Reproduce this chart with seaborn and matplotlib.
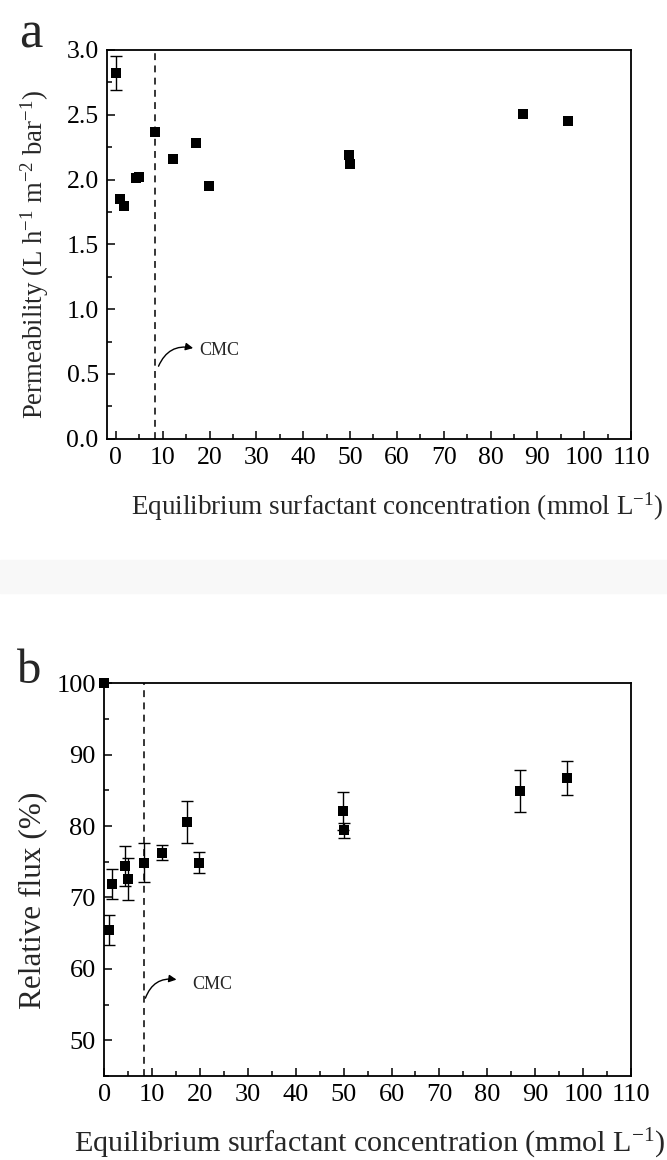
import numpy as np
import pandas as pd
import matplotlib
matplotlib.use("Agg")
import matplotlib.pyplot as plt
from matplotlib.ticker import MultipleLocator, FormatStrFormatter
from matplotlib.patches import Rectangle
import seaborn as sns

# data
conc = [0.0, 0.9, 1.7, 4.3, 5.0, 8.3, 12.1, 17.2, 19.8, 49.8, 50.0, 86.9, 96.6]
perm = [2.82, 1.85, 1.80, 2.01, 2.02, 2.37, 2.16, 2.28, 1.95, 2.19, 2.12, 2.51, 2.45]
perm_err = [0.13, 0, 0, 0, 0, 0, 0, 0, 0, 0, 0, 0, 0]
flux = [100.0, 65.5, 71.9, 74.4, 72.6, 74.9, 76.3, 80.6, 74.9, 82.1, 79.4, 84.9, 86.7]
flux_err = [0, 2.1, 2.1, 2.8, 2.9, 2.7, 1.0, 2.9, 1.5, 2.7, 1.1, 2.9, 2.4]
cmc = 8.3

xticks = list(range(0, 111, 10))

sns.set_style("ticks")
plt.rcParams["font.family"] = ["Liberation Serif", "DejaVu Serif"]
plt.rcParams["mathtext.fontset"] = "custom"
plt.rcParams["mathtext.rm"] = "Liberation Serif"
plt.rcParams["mathtext.it"] = "Liberation Serif:italic"
plt.rcParams["axes.linewidth"] = 1.3

fig = plt.figure(figsize=(6.67, 11.6), dpi=100)
W, H = 667, 1160

# faint page band between the two panels
fig.patches.append(Rectangle((0, 1 - 593 / H), 1, 33 / H, transform=fig.transFigure,
                             color="#f8f8f8", zorder=0))

def box(l, r, t, b):
    return [l / W, 1 - b / H, (r - l) / W, (b - t) / H]

ax_a = fig.add_axes(box(107, 631, 50, 438.8))
ax_b = fig.add_axes(box(104.2, 631, 683.3, 1076))

df_a = pd.DataFrame({"conc": conc, "val": perm, "err": perm_err})
df_b = pd.DataFrame({"conc": conc, "val": flux, "err": flux_err})


def draw(ax, df, tick_fs, ylim, ymaj, ymin, xlim):
    e = df[df["err"] > 0]
    ax.errorbar(e["conc"], e["val"], yerr=e["err"], fmt="none", ecolor="black",
                elinewidth=1.0, capsize=4, capthick=1.0, zorder=3)
    sns.scatterplot(data=df, x="conc", y="val", marker="s", color="black", s=55,
                    edgecolor="black", linewidth=0, ax=ax, zorder=4, clip_on=False)
    ax.axvline(cmc, color="black", lw=1.1, ls=(0, (4.5, 3.5)), zorder=2)
    ax.set_xlim(*xlim)
    ax.set_ylim(*ylim)
    ax.set_xticks(xticks)
    ax.xaxis.set_minor_locator(MultipleLocator(5))
    ax.yaxis.set_major_locator(MultipleLocator(ymaj))
    ax.yaxis.set_minor_locator(MultipleLocator(ymin))
    ax.tick_params(which="both", direction="in", top=False, right=False,
                   labelsize=tick_fs, width=1.1, colors="black")
    ax.tick_params(which="major", length=6, pad=6)
    ax.tick_params(which="minor", length=3.5)
    ax.set_xlabel("")
    ax.set_ylabel("")
    for s in ax.spines.values():
        s.set_color("black")


draw(ax_a, df_a, 18.5, (0, 3.0), 0.5, 0.25, (-1.9, 110))
ax_a.yaxis.set_major_formatter(FormatStrFormatter("%.1f"))
draw(ax_b, df_b, 19, (45, 100), 10, 5, (0, 110))

# labels
ax_a.set_xlabel("Equilibrium surfactant concentration (mmol L$^{-1}$)", fontsize=19.5)
ax_a.xaxis.label.set_va("baseline")
ax_a.xaxis.set_label_coords(0.554, -0.196)
ax_a.set_ylabel("Permeability (L h$^{-1}$ m$^{-2}$ bar$^{-1}$)", fontsize=19.3)
ax_a.yaxis.label.set_va("baseline")
ax_a.yaxis.set_label_coords(-0.122, 0.475)

ax_b.set_xlabel("Equilibrium surfactant concentration (mmol L$^{-1}$)", fontsize=21.7)
ax_b.xaxis.label.set_va("baseline")
ax_b.xaxis.set_label_coords(0.503, -0.193)
ax_b.set_ylabel("Relative flux (%)", fontsize=22.5)
ax_b.yaxis.label.set_va("baseline")
ax_b.yaxis.set_label_coords(-0.122, 0.448)

# CMC annotations
arrow = dict(arrowstyle="-|>", connectionstyle="arc3,rad=-0.4", color="black",
             lw=1.0, mutation_scale=11, shrinkA=0, shrinkB=0)
ax_a.annotate("", xy=(16.5, 0.70), xytext=(9.1, 0.56), arrowprops=arrow)
ax_a.text(17.9, 0.685, "CMC", fontsize=13, va="center", ha="left")
ax_b.annotate("", xy=(15.1, 58.5), xytext=(8.6, 55.9), arrowprops=arrow)
ax_b.text(18.3, 57.8, "CMC", fontsize=13, va="center", ha="left")

# panel letters
fig.text(19 / W, 1 - 47 / H, "a", fontsize=38, va="baseline", ha="left")
fig.text(17 / W, 1 - 683 / H, "b", fontsize=35, va="baseline", ha="left")

fig.savefig("out.png", dpi=100)
